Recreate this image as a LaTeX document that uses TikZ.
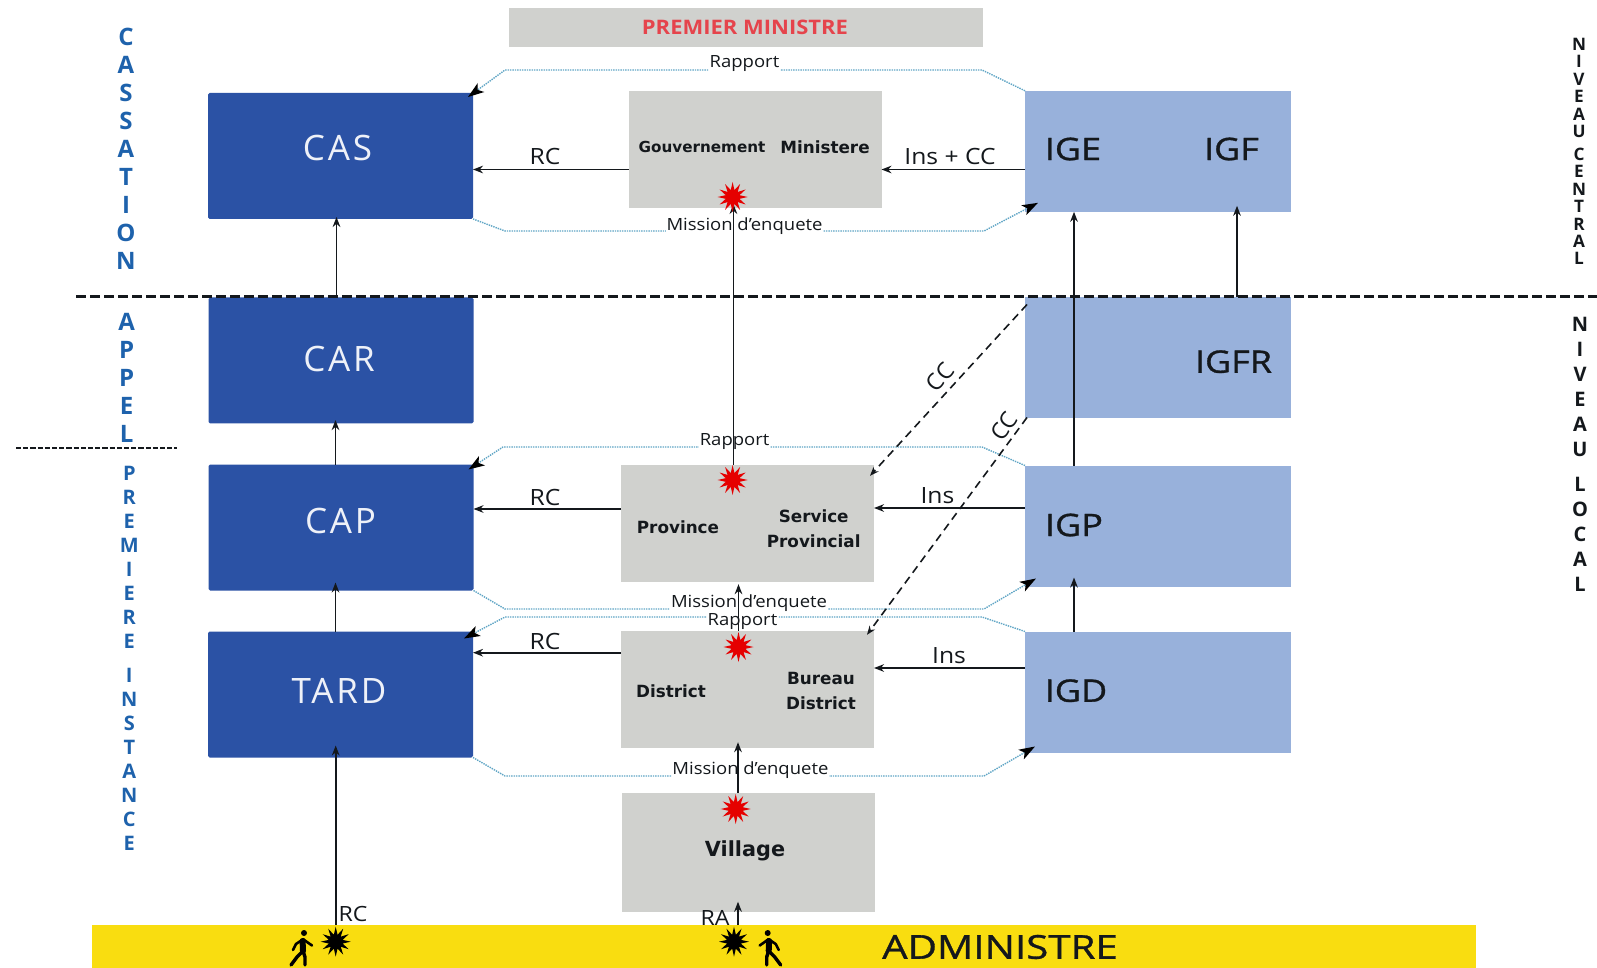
\documentclass[tikz,border=0pt]{standalone}
\usepackage{fontspec}
\setmainfont{Open Sans}
\newfontfamily\widefont{DejaVu Sans}
\usetikzlibrary{arrows.meta,shapes.geometric,calc}
\definecolor{darkblue}{HTML}{2B52A5}
\definecolor{lightblue}{HTML}{98B1DB}
\definecolor{boxgray}{HTML}{D0D1CE}
\definecolor{banner}{HTML}{F9DD10}
\definecolor{redtext}{HTML}{E5444C}
\definecolor{dotblue}{HTML}{5FA5C5}
\definecolor{sideblue}{HTML}{1E62AC}
\definecolor{ink}{HTML}{14181C}
\newcommand{\fz}[1]{\fontsize{#1}{#1}\selectfont}
\newcommand{\heavy}[1]{\addfontfeature{FakeStretch=#1,FakeBold=1}}
\tikzset{
  plainbox/.style={inner sep=0pt,outer sep=0pt,draw=none},
  court/.style={plainbox,fill=darkblue,rounded corners=0.8pt,minimum width=132.5pt,minimum height=63pt},
  insp/.style={plainbox,fill=lightblue,minimum width=133pt,minimum height=60.5pt},
  admin/.style={plainbox,fill=boxgray,minimum width=126.5pt,minimum height=58.7pt},
  courtlabel/.style={text=white!92!darkblue,font=\fz{17.5}\addfontfeature{LetterSpace=8},inner sep=0pt},
  insplabel/.style={text=ink,font=\fz{15.5}\heavy{1.16},inner sep=0pt},
  boxlabel/.style={text=ink,font=\widefont\bfseries\fz{8.4},inner sep=0pt,align=center},
  flowlabel/.style={text=ink,font=\fz{11.2}\addfontfeature{FakeStretch=1.1},inner sep=0pt},
  dotlabel/.style={text=ink,font=\fz{8.4}\addfontfeature{FakeStretch=1.1},inner sep=0.4pt,fill=white},
  flow/.style={draw=ink,line width=0.85pt,-{Stealth[length=5pt,width=3.8pt]}},
  dotflow/.style={draw=dotblue,line width=0.7pt,dash pattern=on 0.7pt off 0.5pt,-{Stealth[length=8pt,width=5.5pt,inset=2pt,black]}},
  ccflow/.style={draw=ink,line width=0.8pt,dash pattern=on 4pt off 2.6pt,-{Stealth[length=4.5pt,width=3.4pt]}},
  sidelabel/.style={inner sep=0pt,align=center,font=\bfseries},
  burst/.style={star,star points=12,star point ratio=2.1,inner sep=0pt,minimum size=15pt,draw=none},
}
\newcommand{\walker}[2]{%
  \begin{scope}[shift={(#1,0)},xscale=#2,fill=black,draw=black,line cap=round,line join=round]
    \fill (3,933) circle (3);
    \draw[line width=3pt] (1.6,941) -- (2,951);
    \draw[line width=1.3pt] (2,939) -- (6,942) -- (11,945.5);
    \draw[line width=1.3pt] (1,940) -- (-5,944) -- (-8,950);
    \draw[line width=1.7pt] (2,951) -- (-4,957) -- (-10,965);
    \draw[line width=1.7pt] (2,951) -- (4,957) -- (4,965);
  \end{scope}}
\begin{document}
\begin{tikzpicture}[x=0.5pt,y=-0.5pt]
\useasboundingbox (0,0) rectangle (1597,968);
% boxes
\node[plainbox,fill=boxgray,minimum width=236.75pt,minimum height=19.5pt] (pm) at (745.75,27.5) {};
\node[court] (cas) at (340.5,156) {};
\node[court] (car) at (341,360.5) {};
\node[court] (cap) at (341,527.5) {};
\node[court] (tard) at (340.5,694.5) {};
\node[insp] (ige) at (1158,151.3) {};
\node[insp] (igfr) at (1158,358) {};
\node[insp] (igp) at (1158,526) {};
\node[insp] (igd) at (1158,692) {};
\node[admin] (gouv) at (755,149.25) {};
\node[admin] (prov) at (747.5,523.5) {};
\node[admin] (dist) at (747.5,689.5) {};
\node[admin,minimum height=59.5pt] (vill) at (748,852.2) {};
\node[plainbox,fill=banner,minimum width=692pt,minimum height=21.5pt] (adm) at (784,946.5) {};
% separators
\coordinate (sepA) at (76,297);
\coordinate (sepB) at (1597,297);
\coordinate (subA) at (16,448);
\coordinate (subB) at (177,448);
% dotted flows
\draw[dotflow] (ige.north west) -- (982,70) -- (505,70) -- ([shift={(-5,4)}]cas.north east);
\draw[dotflow] (cas.south east) -- (505,231) -- (984,231) -- ([shift={(13,-9)}]ige.south west);
\draw[dotflow] (igp.north west) -- (982,447) -- (503,447) -- ([shift={(-5,5)}]cap.north east);
\draw[dotflow] (cap.south east) -- (505,609) -- (984,609) -- ([shift={(11,-8)}]igp.south west);
\draw[dotflow] (igd.north west) -- (982,617) -- (505,617) -- ([shift={(-9,7)}]tard.north east);
\draw[dotflow] (tard.south east) -- (505,776) -- (984,776) -- ([shift={(10,-6)}]igd.south west);
% dotted labels
\node[dotlabel] (rap1) at (744.5,64) {Rapport};
\node[dotlabel] (mis1) at (744.5,226) {Mission d’enquete};
\node[dotlabel] (rap2) at (734.6,442) {Rapport};
\node[dotlabel] (mis2) at (749,603.5) {Mission d’enquete};
\node[dotlabel] (rap3) at (742.5,622) {Rapport};
\node[dotlabel] (mis3) at (750.4,770.5) {Mission d’enquete};
% separators drawn
\draw[ink,line width=1.5pt,dash pattern=on 5pt off 2pt] (sepA) -- (sepB);
\draw[ink,line width=0.8pt,dash pattern=on 2.6pt off 1pt] (subA) -- (subB);
% horizontal flows
\draw[flow] (gouv.west |- 0,169.5) -- (cas.east |- 0,169.5);
\draw[flow] (ige.west |- 0,169.5) -- (gouv.east |- 0,169.5);
\draw[flow] (prov.west |- 0,509) -- (cap.east |- 0,509);
\draw[flow] (igp.west |- 0,508) -- (prov.east |- 0,508);
\draw[flow] (dist.west |- 0,652.7) -- (tard.east |- 0,652.7);
\draw[flow] (igd.west |- 0,668) -- (dist.east |- 0,668);
% vertical flows
\draw[flow,shorten >=-1pt] (car.north -| 336.5,0) -- (cas.south -| 336.5,0);
\draw[flow,shorten >=-1.7pt] (cap.north -| 335.5,0) -- (car.south -| 335.5,0);
\draw[flow,shorten >=-4pt] (tard.north -| 335.5,0) -- (cap.south -| 335.5,0);
\draw[flow,shorten >=-6pt] (adm.north -| 335.7,0) -- (tard.south -| 335.7,0);
\draw[flow,shorten >=-2pt] (prov.north -| 733.4,0) -- (gouv.south -| 733.4,0);
\draw[flow,shorten >=1pt] (dist.north -| 738.5,0) -- (prov.south -| 738.5,0);
\draw[flow,shorten >=-3pt] (vill.north -| 738,0) -- (dist.south -| 738,0);
\draw[flow,shorten >=-5pt] (adm.north -| 738,0) -- (vill.south -| 738,0);
\draw[flow] (igp.north -| 1074,0) -- (ige.south -| 1074,0);
\coordinate (igfTop) at (1237,297);
\draw[flow,shorten >=-3pt] (igfTop) -- (ige.south -| 1237,0);
\draw[flow,shorten >=-4.5pt] (igd.north -| 1074,0) -- (igp.south -| 1074,0);
% CC dashed flows
\draw[ccflow] ([shift={(2,7)}]igfr.north west) -- ([shift={(-4,11)}]prov.north east);
\draw[ccflow] ([shift={(2,-1)}]igfr.south west) -- ([shift={(-7,4)}]dist.north east);
\node[flowlabel,font=\fz{11.5},rotate=49] (cc1) at (940,377) {CC};
\node[flowlabel,font=\fz{11.5},rotate=54] (cc2) at (1004,426) {CC};
% bursts
\node[burst,fill=red!90!black] (st1) at (732.6,197) {};
\node[burst,fill=red!90!black] (st2) at (732.6,480) {};
\node[burst,fill=red!90!black] (st3) at (738.5,647) {};
\node[burst,fill=red!90!black] (st4) at (735.7,809) {};
\node[burst,fill=black] (st5) at (335.7,941.7) {};
\node[burst,fill=black] (st6) at (734,941.7) {};
\walker{301}{1}
\walker{770.7}{-1}
% box labels
\node[text=redtext,font=\bfseries\fz{10}\addfontfeature{FakeStretch=1.1},inner sep=0pt] (tpm) at (745,27.5) {PREMIER MINISTRE};
\node[courtlabel] (tcas) at (337.5,148) {CAS};
\node[courtlabel] (tcar) at (339,359) {CAR};
\node[courtlabel] (tcap) at (340.5,521) {CAP};
\node[courtlabel] (ttard) at (339,691) {TARD};
\node[insplabel] (tige) at (1073,149) {IGE};
\node[insplabel] (tigf) at (1231.5,149) {IGF};
\node[insplabel] (tigfr) at (1233.5,361.7) {IGFR};
\node[insplabel] (tigp) at (1074,525) {IGP};
\node[insplabel] (tigd) at (1076,690.7) {IGD};
\node[boxlabel,font=\widefont\bfseries\fz{7.6}] (tgouv) at (702,147) {Gouvernement};
\node[boxlabel] (tmin) at (825,147) {Ministere};
\node[boxlabel] (tprov) at (678,527) {Province};
\node[boxlabel,font=\widefont\bfseries\fz{8.4}\linespread{1.5}\selectfont] (tserv) at (813.7,529) {Service\\Provincial};
\node[boxlabel] (tdist) at (671,691.7) {District};
\node[boxlabel,font=\widefont\bfseries\fz{8.4}\linespread{1.5}\selectfont] (tbur) at (821,691) {Bureau\\District};
\node[boxlabel,font=\widefont\bfseries\fz{10.4}] (tvill) at (745,850.7) {Village};
\node[insplabel,font=\fz{16.5}\heavy{1.22}] (tadm) at (1000,947) {ADMINISTRE};
% flow labels
\node[flowlabel] (l1) at (545,157) {RC};
\node[flowlabel] (l2) at (950,157) {Ins + CC};
\node[flowlabel] (l3) at (545,497) {RC};
\node[flowlabel] (l4) at (937.4,496) {Ins};
\node[flowlabel] (l5) at (545,641) {RC};
\node[flowlabel] (l6) at (949,656) {Ins};
\node[flowlabel,font=\fz{10.5}\addfontfeature{FakeStretch=1.1}] (l7) at (353,914) {RC};
\node[flowlabel,font=\fz{10.5}\addfontfeature{FakeStretch=1.1}] (l8) at (715,918) {RA};
% side labels
\node[sidelabel,text=sideblue,font=\bfseries\fontsize{12}{14}\selectfont] (s1) at (126,149) {C\\A\\S\\S\\A\\T\\I\\O\\N};
\node[sidelabel,text=sideblue,font=\bfseries\fontsize{12}{14}\selectfont] (s2) at (126.7,378) {A\\P\\P\\E\\L};
\node[sidelabel,text=sideblue,font=\bfseries\fontsize{10}{12}\selectfont] (s3) at (129.3,658) {P\\R\\E\\M\\I\\E\\R\\E\\[5pt]I\\N\\S\\T\\A\\N\\C\\E};
\node[sidelabel,text=ink,font=\bfseries\fontsize{8.6}{8.7}\selectfont] (s4) at (1579,151.6) {N\\I\\V\\E\\A\\U\\[2.8pt]C\\E\\N\\T\\R\\A\\L};
\node[sidelabel,text=ink,font=\bfseries\fontsize{10}{12.5}\selectfont] (s5) at (1580,454) {N\\I\\V\\E\\A\\U\\[5pt]L\\O\\C\\A\\L};
\end{tikzpicture}
\end{document}
